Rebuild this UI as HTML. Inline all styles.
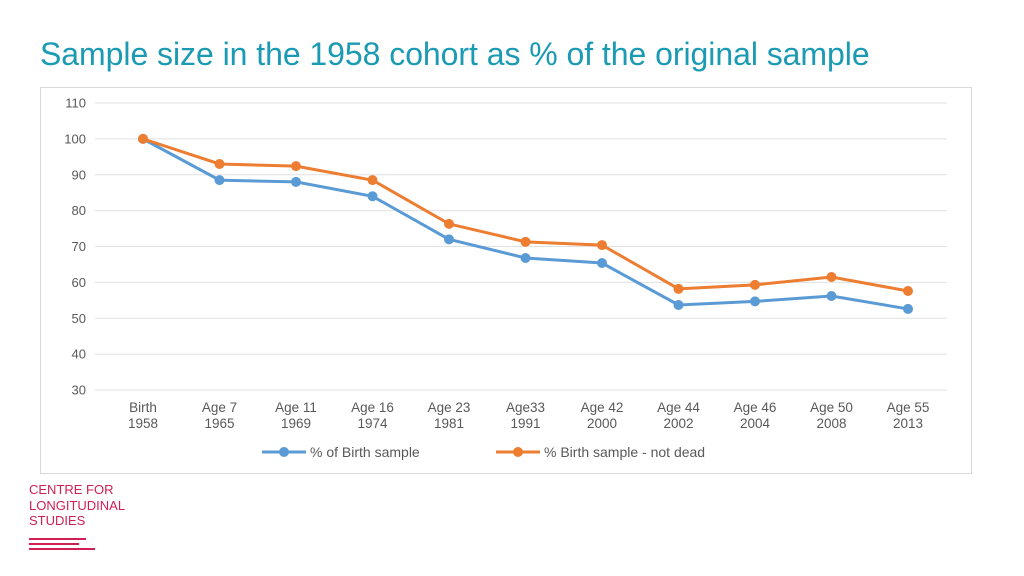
<!DOCTYPE html>
<html><head><meta charset="utf-8"><style>
body{margin:0;width:1024px;height:576px;background:#fff;position:relative;overflow:hidden;font-family:"Liberation Sans",sans-serif}
#title{position:absolute;left:40px;top:36px;font-size:32px;color:#1b9ab3;letter-spacing:-0.05px;white-space:nowrap}
#logo{position:absolute;left:29px;top:482px;color:#cf1f55;font-size:13px;line-height:15.5px}
</style></head><body>
<div id="title">Sample size in the 1958 cohort as % of the original sample</div>
<svg id="chart" width="1024" height="576" style="position:absolute;left:0;top:0"></svg>
<div id="logo">CENTRE FOR<br>LONGITUDINAL<br>STUDIES
<div style="width:57px;height:2px;background:#cf1f55;margin-top:9px"></div>
<div style="width:50px;height:2px;background:#cf1f55;margin-top:3px"></div>
<div style="width:66px;height:2px;background:#cf1f55;margin-top:3px"></div></div>
<script>
const categories=[["Birth","1958"],["Age 7","1965"],["Age 11","1969"],["Age 16","1974"],["Age 23","1981"],["Age33","1991"],["Age 42","2000"],["Age 44","2002"],["Age 46","2004"],["Age 50","2008"],["Age 55","2013"]];
const birthSample=[100,88.5,88,84,72,66.8,65.4,53.7,54.7,56.2,52.6];
const notDead=[100,93,92.4,88.5,76.3,71.3,70.4,58.2,59.3,61.5,57.6];
const yTicks=[30,40,50,60,70,80,90,100,110];
const NS="http://www.w3.org/2000/svg";
const svg=document.getElementById('chart');
function el(t,a,p){const e=document.createElementNS(NS,t);for(const k in a)e.setAttribute(k,a[k]);(p||svg).appendChild(e);return e;}
const x=i=>143+i*76.5;
const y=v=>390-(v-30)*(287/80);
const frame=el('rect',{x:40.5,y:87.5,width:931,height:386,fill:'none',stroke:'#d9d9d9'});


yTicks.forEach(t=>{
  const g=el('line',{x1:95,x2:947,y1:y(t),y2:y(t),stroke:'#e0e0e0'});
  
  
  const tx=el('text',{x:86,y:y(t)+4.5,'text-anchor':'end','font-size':13,fill:'#595959'});
  tx.textContent=t;
  
  
});
categories.forEach((c,i)=>{
  c.forEach((s,j)=>{
    const tx=el('text',{x:x(i),y:412+j*16,'text-anchor':'middle','font-size':13.5,fill:'#595959'});
    tx.textContent=s;
    
    
  });
});
function series(d,col,name){
  const p=el('polyline',{points:d.map((v,i)=>x(i)+','+y(v)).join(' '),fill:'none',stroke:col,'stroke-width':3});
  
  
  d.forEach((v,i)=>{
    const c=el('circle',{cx:x(i),cy:y(v),r:5,fill:col});
    
    
  });
}
series(birthSample,'#5b9bd5','birth-sample');
series(notDead,'#ed7d31','not-dead');
[[262,'#5b9bd5','% of Birth sample','legend-birth-sample'],[496,'#ed7d31','% Birth sample - not dead','legend-not-dead']].forEach(l=>{
  const g=el('g',{});
  
  
  el('line',{x1:l[0],x2:l[0]+44,y1:452,y2:452,stroke:l[1],'stroke-width':3},g);
  el('circle',{cx:l[0]+22,cy:452,r:5,fill:l[1]},g);
  const t=el('text',{x:l[0]+48,y:457,'font-size':14,fill:'#595959'},g);
  t.textContent=l[2];
});
</script>
</body></html>
